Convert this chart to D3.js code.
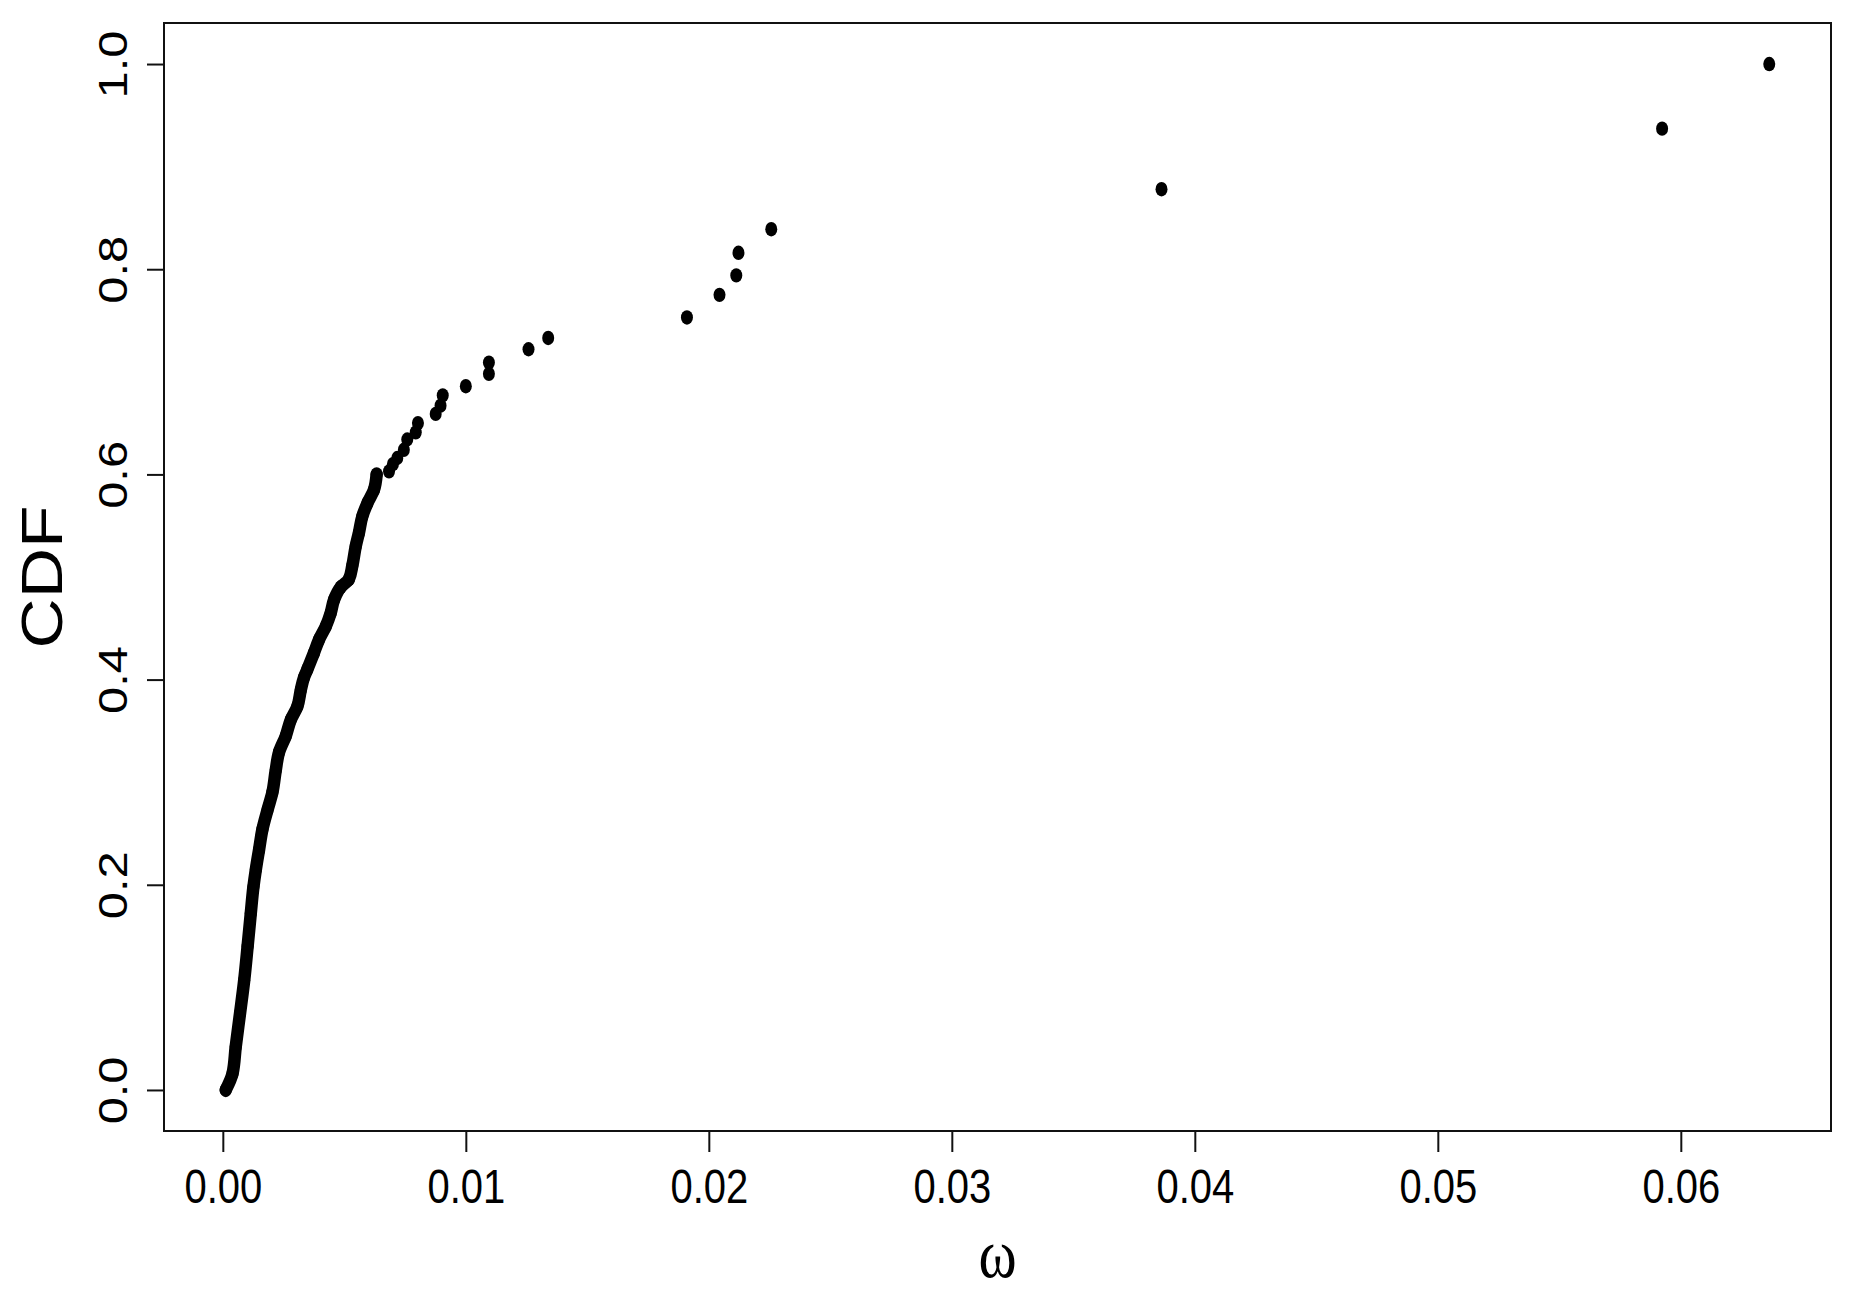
<!DOCTYPE html>
<html>
<head>
<meta charset="utf-8">
<script src="https://cdn.jsdelivr.net/npm/d3@7/dist/d3.min.js"></script>
<style>
  html, body { margin: 0; padding: 0; background: #fff; }
  svg { display: block; }
</style>
</head>
<body>
<svg id="chart" width="1866" height="1302"></svg>
<script>
// ---- data ----
// dense part of the curve (points overlap into a continuous band)
const omegaDense = [0.00012, 0.00040, 0.00053, 0.00071, 0.00088, 0.00102, 0.00115, 0.00126, 0.00136, 0.00149,
                    0.00163, 0.00184, 0.00204, 0.00218, 0.00231, 0.00259, 0.00280, 0.00307, 0.00321, 0.00334,
                    0.00348, 0.00375, 0.00396, 0.00424, 0.00444, 0.00458, 0.00485, 0.00519, 0.00533, 0.00547,
                    0.00560, 0.00574, 0.00595, 0.00622, 0.00633];
const cdfDense   = [0.000, 0.016, 0.042, 0.075, 0.107, 0.140, 0.172, 0.198, 0.215, 0.234,
                    0.254, 0.273, 0.290, 0.312, 0.329, 0.345, 0.361, 0.374, 0.390, 0.402,
                    0.410, 0.426, 0.439, 0.452, 0.465, 0.478, 0.490, 0.498, 0.511, 0.530,
                    0.543, 0.559, 0.572, 0.585, 0.600];
// separate points above the dense part
const omegaSparse = [0.00684, 0.00700, 0.00718, 0.00745, 0.00759, 0.00794, 0.00803, 0.00876, 0.00896, 0.00905,
                     0.01000, 0.01095, 0.01095, 0.01258, 0.01339, 0.01910, 0.02044, 0.02113, 0.02122, 0.02257,
                     0.03863, 0.05923, 0.06364];
const cdfSparse   = [0.603, 0.610, 0.616, 0.624, 0.634, 0.641, 0.650, 0.659, 0.667, 0.677,
                     0.686, 0.698, 0.709, 0.722, 0.733, 0.753, 0.775, 0.794, 0.816, 0.839,
                     0.878, 0.937, 1.000];
const xTicks = [0.00, 0.01, 0.02, 0.03, 0.04, 0.05, 0.06];
const yTicks = [0.0, 0.2, 0.4, 0.6, 0.8, 1.0];
const xTitle = "ω";
const yTitle = "CDF";

// ---- layout ----
const box = { left: 164, right: 1831, top: 23, bottom: 1131 };
const stretch = 1.22;          // the picture is slightly taller than wide
const svg = d3.select("#chart");

const allX = omegaDense.concat(omegaSparse);
const allY = cdfDense.concat(cdfSparse);
const xMin = d3.min(allX), xMax = d3.max(allX);
const yMin = d3.min(allY), yMax = d3.max(allY);
const xr = xMax - xMin, yr = yMax - yMin;

const x = d3.scaleLinear()
  .domain([xMin - 0.04 * xr, xMax + 0.04 * xr])
  .range([box.left, box.right]);
const y = d3.scaleLinear()
  .domain([yMin - 0.04 * yr, yMax + 0.04 * yr])
  .range([box.bottom, box.top]);

// ---- plot box ----
svg.append("rect")
  .attr("x", box.left).attr("y", box.top)
  .attr("width", box.right - box.left).attr("height", box.bottom - box.top)
  .attr("fill", "none").attr("stroke", "#111").attr("stroke-width", 2);

// ---- x axis ----
const gx = svg.append("g")
  .attr("transform", `translate(0,${box.bottom})`)
  .call(d3.axisBottom(x).tickValues(xTicks).tickSize(21).tickFormat(d3.format(".2f")));
gx.select(".domain").remove();
gx.selectAll(".tick line").attr("stroke", "#111").attr("stroke-width", 2);
gx.selectAll(".tick text")
  .attr("x", null).attr("y", null).attr("dy", null)
  .attr("transform", `translate(0,72) scale(1,${stretch})`)
  .attr("text-anchor", "middle")
  .attr("fill", "#000")
  .style("font-family", "'Liberation Sans', Arial, sans-serif")
  .style("font-size", "40px");

// ---- y axis ----
const gy = svg.append("g")
  .attr("transform", `translate(${box.left},0)`)
  .call(d3.axisLeft(y).tickValues(yTicks).tickSize(17).tickFormat(d3.format(".1f")));
gy.select(".domain").remove();
gy.selectAll(".tick line").attr("stroke", "#111").attr("stroke-width", 2);
gy.selectAll(".tick text")
  .attr("x", null).attr("y", null).attr("dy", null)
  .attr("transform", `translate(-37,0) scale(1,${stretch}) rotate(-90)`)
  .attr("text-anchor", "middle")
  .attr("fill", "#000")
  .style("font-family", "'Liberation Sans', Arial, sans-serif")
  .style("font-size", "40px");

// ---- axis titles ----
svg.append("text")
  .attr("transform", `translate(${(box.left + box.right) / 2},1277) scale(1,${stretch})`)
  .attr("text-anchor", "middle")
  .style("font-family", "'Liberation Serif', 'DejaVu Serif', serif")
  .style("font-size", "58px")
  .text(xTitle);

svg.append("text")
  .attr("transform", `translate(62,${(box.top + box.bottom) / 2}) scale(1,${stretch}) rotate(-90)`)
  .attr("text-anchor", "middle")
  .style("font-family", "'Liberation Sans', Arial, sans-serif")
  .style("font-size", "57px")
  .text(yTitle);

// ---- points ----
const dense = omegaDense.map((v, i) => [v, cdfDense[i]]);
const sparse = omegaSparse.map((v, i) => [v, cdfSparse[i]]);

// the overlapping dots of the dense part form a continuous band
svg.append("path")
  .datum(dense)
  .attr("d", d3.line().curve(d3.curveMonotoneY).x(d => x(d[0])).y(d => y(d[1])))
  .attr("fill", "none")
  .attr("stroke", "#000")
  .attr("stroke-width", 12.5)
  .attr("stroke-linecap", "round")
  .attr("stroke-linejoin", "round");

svg.append("g").selectAll("ellipse")
  .data(dense.concat(sparse))
  .join("ellipse")
  .attr("cx", d => x(d[0]))
  .attr("cy", d => y(d[1]))
  .attr("rx", 6)
  .attr("ry", 7.2)
  .attr("fill", "#000");
</script>
</body>
</html>
